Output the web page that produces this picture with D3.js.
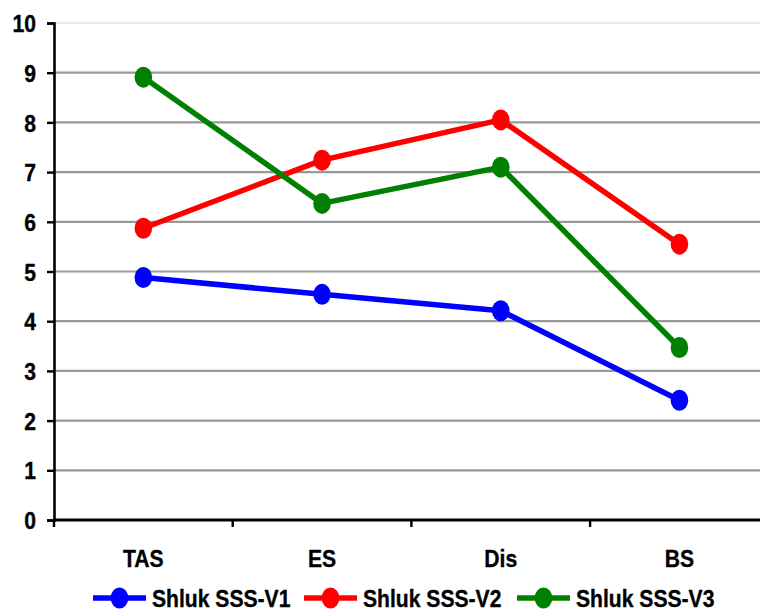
<!DOCTYPE html>
<html>
<head>
<meta charset="utf-8">
<script src="https://cdn.jsdelivr.net/npm/d3@7"></script>
<style>
  html, body { margin: 0; padding: 0; background: #fff; overflow: hidden; }
  svg { display: block; }
  text { font-family: "Liberation Sans", Arial, sans-serif; font-weight: bold; fill: #000; stroke: #000; stroke-width: 0.35px; }
</style>
</head>
<body>
<svg id="chart" width="760" height="611"></svg>
<script>
// Categories and series values
const categories = ["TAS", "ES", "Dis", "BS"];
const seriesNames = ["Shluk SSS-V1", "Shluk SSS-V2", "Shluk SSS-V3"];
const v1 = [4.88, 4.54, 4.21, 2.41];
const v2 = [5.87, 7.24, 8.05, 5.55];
const v3 = [8.91, 6.37, 7.10, 3.47];
const seriesColors = ["#0000ff", "#ff0000", "#008000"];
const yTicks = [0, 1, 2, 3, 4, 5, 6, 7, 8, 9, 10];

const series = [v1, v2, v3].map((vals, i) => ({ name: seriesNames[i], values: vals, color: seriesColors[i] }));

const svg = d3.select("#chart");
const plotLeft = 54, plotTop = 23, plotBottom = 520;
const band = 178.7;
const plotRight = plotLeft + band * categories.length;
const sx = 0.88; // horizontal squeeze of the lettering
const fontSize = 24;

const x = d3.scaleBand().domain(categories).range([plotLeft, plotRight]).padding(0);
const y = d3.scaleLinear().domain([0, 10]).range([plotBottom, plotTop]);
const cx = c => x(c) + x.bandwidth() / 2;

// Horizontal gridlines
svg.append("g").selectAll("line")
  .data(yTicks.filter(t => t > 0))
  .join("line")
  .attr("x1", plotLeft).attr("x2", plotRight)
  .attr("y1", d => y(d)).attr("y2", d => y(d))
  .attr("stroke", d => d === 10 ? "#e2e2e2" : "#999")
  .attr("stroke-width", d => d === 10 ? 1.5 : 2.2);

// Y axis
const yAxis = svg.append("g")
  .attr("transform", `translate(${plotLeft},0)`)
  .call(d3.axisLeft(y).tickValues(yTicks).tickSize(7).tickPadding(11).tickFormat(d3.format("d")));
yAxis.attr("font-family", null).attr("font-size", null);
yAxis.select(".domain").attr("stroke", "#000").attr("stroke-width", 2.6);
yAxis.selectAll(".tick line").attr("stroke", "#000").attr("stroke-width", 2.4);
yAxis.selectAll(".tick text")
  .attr("font-size", fontSize)
  .attr("fill", "#000")
  .attr("dy", "0.36em")
  .each(function () {
    const t = d3.select(this);
    const xx = +t.attr("x");
    t.attr("x", null).attr("transform", `translate(${xx},0) scale(${sx},1)`);
  });

// X axis baseline and boundary ticks
const xAxis = svg.append("g").attr("transform", `translate(0,${plotBottom})`);
xAxis.append("line").attr("x1", plotLeft - 1).attr("x2", plotRight)
  .attr("stroke", "#000").attr("stroke-width", 3);
xAxis.selectAll("line.bt")
  .data(d3.range(categories.length + 1))
  .join("line").attr("class", "bt")
  .attr("x1", i => plotLeft + i * x.bandwidth()).attr("x2", i => plotLeft + i * x.bandwidth())
  .attr("y1", 0).attr("y2", 7)
  .attr("stroke", "#000").attr("stroke-width", 2.4);
xAxis.selectAll("text")
  .data(categories)
  .join("text")
  .attr("transform", d => `translate(${cx(d)},47) scale(${sx},1)`)
  .attr("text-anchor", "middle")
  .attr("font-size", fontSize)
  .text(d => d);

// Series lines and markers
const line = d3.line().x((d, i) => cx(categories[i])).y(d => y(d));
const g = svg.append("g");
series.forEach(s => {
  g.append("path")
    .attr("d", line(s.values))
    .attr("fill", "none")
    .attr("stroke", s.color)
    .attr("stroke-width", 5.5)
    .attr("stroke-linejoin", "round");
  g.selectAll(null)
    .data(s.values)
    .join("ellipse")
    .attr("cx", (d, i) => cx(categories[i]))
    .attr("cy", d => y(d))
    .attr("rx", 8.8).attr("ry", 10.5)
    .attr("fill", s.color);
});

// Legend
const legendX = [93, 304, 517];
const legendY = 598;
const lg = svg.append("g");
series.forEach((s, i) => {
  const item = lg.append("g").attr("transform", `translate(${legendX[i]},${legendY})`);
  item.append("line").attr("x1", 0).attr("x2", 53).attr("y1", 0).attr("y2", 0)
    .attr("stroke", s.color).attr("stroke-width", 5.5);
  item.append("ellipse").attr("cx", 26.5).attr("cy", 0).attr("rx", 8.8).attr("ry", 10.5).attr("fill", s.color);
  item.append("text")
    .attr("transform", `translate(59,9) scale(${sx},1)`)
    .attr("font-size", fontSize)
    .text(s.name);
});
</script>
</body>
</html>
